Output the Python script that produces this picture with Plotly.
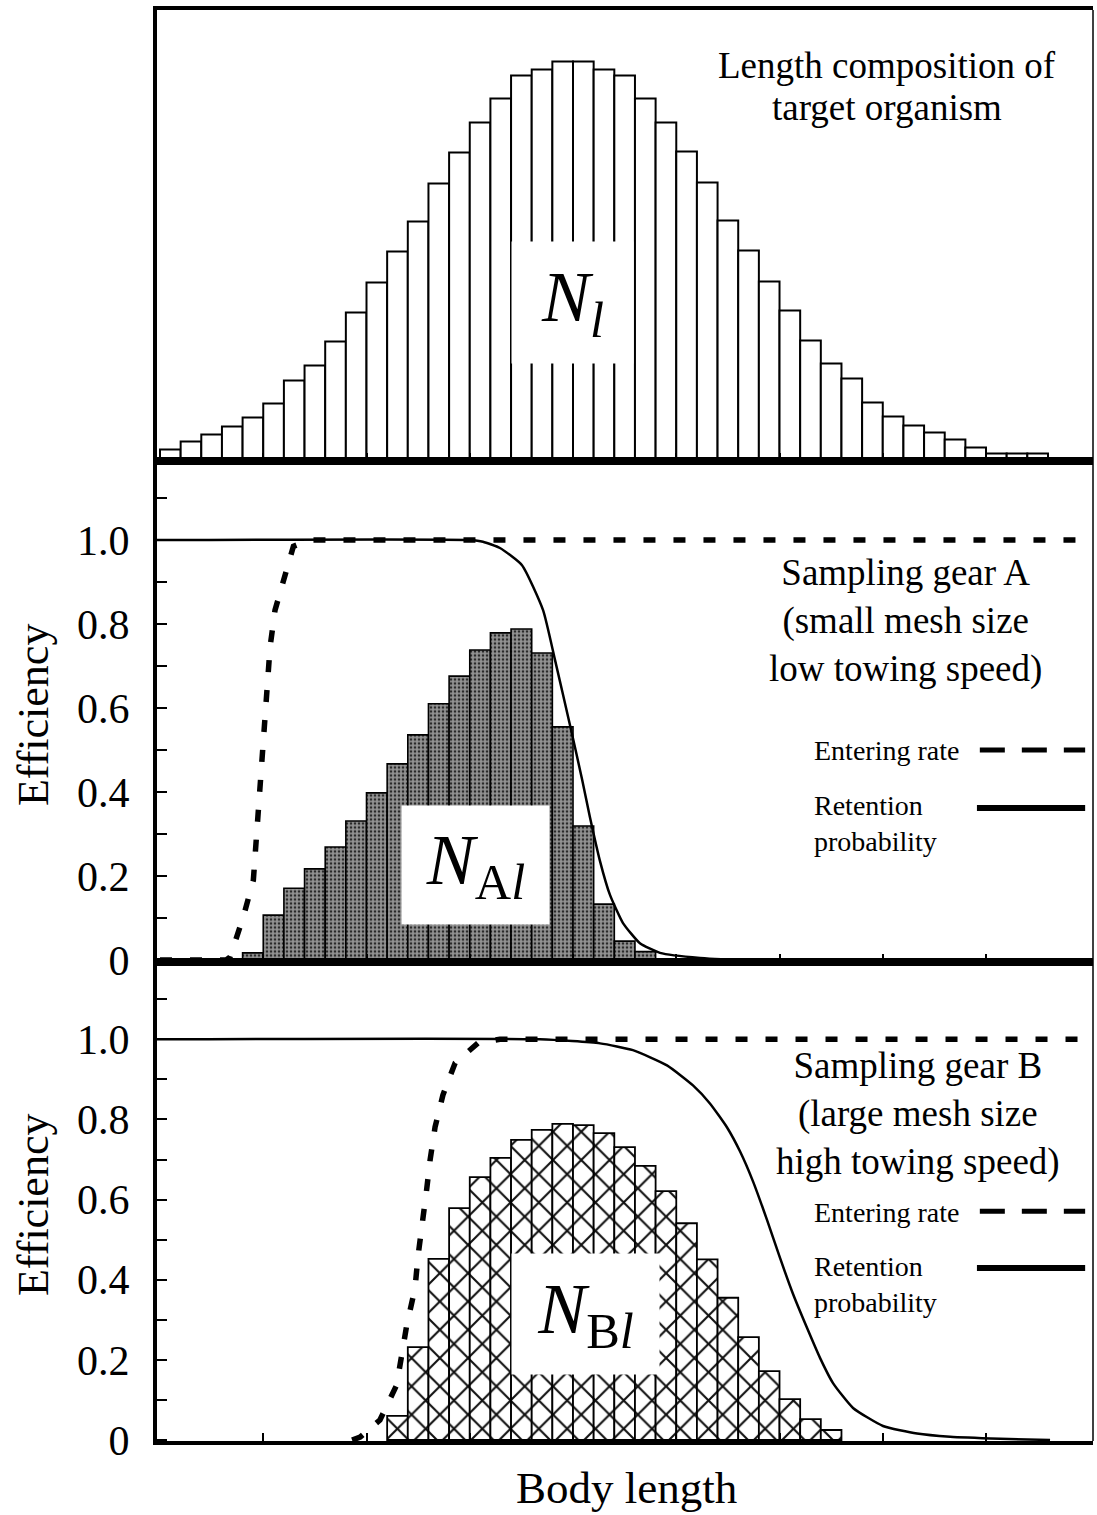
import plotly.graph_objects as go

# ---------------- data ----------------
# length classes (bin index) and counts for the population length composition
length_classes = list(range(43))
N_l = [12, 20, 27, 35, 44, 58, 81, 96, 120, 149, 179, 210, 240, 278, 309, 339, 363,
       386, 392, 400, 400, 392, 386, 363, 339, 310, 279, 241, 211, 180, 151, 121, 98,
       83, 59, 45, 36, 29, 22, 14, 8, 8, 8]

# gear A catch composition
classes_A = list(range(4, 24))
N_Al = [0.017, 0.107, 0.171, 0.217, 0.269, 0.331, 0.398, 0.467, 0.536, 0.610, 0.676,
        0.738, 0.779, 0.788, 0.731, 0.555, 0.319, 0.133, 0.045, 0.020]

# gear B catch composition
classes_B = list(range(11, 33))
N_Bl = [0.060, 0.232, 0.452, 0.579, 0.656, 0.704, 0.749, 0.774, 0.789, 0.786, 0.766,
        0.731, 0.684, 0.621, 0.541, 0.451, 0.355, 0.257, 0.172, 0.102, 0.052, 0.025]

enterA_len = [0.0, 3.2, 3.39, 4.03, 4.52, 4.71, 4.89, 5.08, 5.20, 5.33, 5.57, 5.97, 6.46, 7.26, 45.04]
enterA_val = [0.0, 0.0, 0.007, 0.102, 0.19, 0.317, 0.429, 0.555, 0.636, 0.745, 0.833, 0.905, 0.985, 1.0, 1.0]

retainA_len = [-0.15, 15.0, 15.64, 16.46, 17.53, 18.55, 19.13, 19.85, 20.44, 20.82, 21.31, 21.79,
               22.42, 23.24, 24.21, 26.15, 28.57, 45.2]
retainA_val = [1.0, 1.0, 0.996, 0.981, 0.94, 0.833, 0.714, 0.56, 0.43, 0.34, 0.235, 0.155,
               0.088, 0.04, 0.017, 0.005, 0.0, 0.0]

enterB_len = [9.3, 9.69, 10.65, 11.46, 11.95, 12.35, 12.49, 12.72, 12.91, 13.08, 13.32, 13.70,
              14.29, 15.40, 16.46, 45.04]
enterB_val = [0.0, 0.007, 0.05, 0.137, 0.287, 0.379, 0.457, 0.541, 0.624, 0.699, 0.781, 0.861,
              0.941, 0.991, 1.0, 1.0]

retainB_len = [-0.15, 18.4, 21.31, 22.9, 24.55, 25.81, 26.63, 27.46, 28.09, 28.72, 29.39, 30.02,
               30.65, 31.33, 31.96, 32.59, 33.56, 35.01, 36.66, 38.26, 40.68, 43.1]
retainB_val = [1.0, 1.0, 0.99, 0.973, 0.935, 0.885, 0.84, 0.78, 0.72, 0.645, 0.55, 0.455,
               0.365, 0.28, 0.205, 0.142, 0.08, 0.035, 0.016, 0.008, 0.003, 0.0]

eff_major = [0, 0.2, 0.4, 0.6, 0.8, 1.0]
eff_labels = ["0", "0.2", "0.4", "0.6", "0.8", "1.0"]
eff_minor = [0.1, 0.3, 0.5, 0.7, 0.9, 1.1]
x_ticks = [5, 10, 15, 20, 25, 30, 35, 40]

# ---------------- figure ----------------
SERIF = "Liberation Serif, Times New Roman, serif"
fig = go.Figure()

def centers(cls):
    return [c + 0.5 for c in cls]

fig.add_trace(go.Bar(x=centers(length_classes), y=N_l, width=1, xaxis="x", yaxis="y",
                     marker=dict(color="white", line=dict(color="black", width=2))))

fig.add_trace(go.Bar(x=centers(classes_A), y=N_Al, width=1, xaxis="x2", yaxis="y2",
                     marker=dict(color="#8c8c8c",
                                 pattern=dict(shape=".", bgcolor="#939393", fgcolor="#2a2a2a",
                                              size=4, solidity=0.35),
                                 line=dict(color="black", width=1.6))))

fig.add_trace(go.Bar(x=centers(classes_B), y=N_Bl, width=1, xaxis="x3", yaxis="y3",
                     marker=dict(color="white",
                                 pattern=dict(shape="x", bgcolor="white", fgcolor="#111111",
                                              size=20, solidity=0.2),
                                 line=dict(color="black", width=1.8))))

dash_curve = dict(color="black", width=5.5, dash="12px,18px")
solid_curve = dict(color="black", width=2.5)

fig.add_trace(go.Scatter(x=retainA_len, y=retainA_val, mode="lines", xaxis="x2", yaxis="y2",
                         line=dict(solid_curve, shape="spline", smoothing=0.5)))
fig.add_trace(go.Scatter(x=enterA_len, y=enterA_val, mode="lines", xaxis="x2", yaxis="y2",
                         line=dash_curve))
fig.add_trace(go.Scatter(x=retainB_len, y=retainB_val, mode="lines", xaxis="x3", yaxis="y3",
                         line=dict(solid_curve, shape="spline", smoothing=0.5)))
fig.add_trace(go.Scatter(x=enterB_len, y=enterB_val, mode="lines", xaxis="x3", yaxis="y3",
                         line=dash_curve))

XR = [-0.145, 45.18]
xcommon = dict(range=XR, showgrid=False, zeroline=False, showline=True, linecolor="black",
               linewidth=4, mirror=True, ticks="inside", tickvals=x_ticks, ticklen=8,
               tickwidth=1.5, tickcolor="black", showticklabels=False, automargin=False)
ycommon = dict(showgrid=False, zeroline=False, showline=True, linecolor="black", linewidth=4,
               automargin=False)
yeff = dict(ycommon, ticks="inside", tickvals=eff_major, ticktext=eff_labels, ticklen=10,
            tickwidth=1.5, tickcolor="black", ticklabelstandoff=15,
            minor=dict(tickvals=eff_minor, ticks="inside", ticklen=10, tickwidth=1.5,
                       tickcolor="black", showgrid=False),
            tickfont=dict(family=SERIF, size=42, color="black"))

fig.update_layout(
    template="none",
    width=1097, height=1515,
    margin=dict(l=157, r=4, t=10, b=74, autoexpand=False),
    plot_bgcolor="white", paper_bgcolor="white",
    showlegend=False,
    xaxis=dict(xcommon, domain=[0, 1], anchor="y"),
    yaxis=dict(ycommon, domain=[0.6845, 1], range=[0, 451.5], showticklabels=False, ticks=""),
    xaxis2=dict(xcommon, domain=[0, 1], anchor="y2"),
    yaxis2=dict(yeff, domain=[0.3347, 0.6845], range=[-0.0048, 1.187]),
    xaxis3=dict(xcommon, domain=[0, 1], anchor="y3"),
    yaxis3=dict(yeff, domain=[0, 0.3347], range=[-0.0025, 1.193]),
)

fig.add_shape(type="line", xref="paper", yref="paper", x0=1, x1=1, y0=0, y1=1,
              line=dict(color="black", width=1.5))

# legend samples
for xr, yr, yd, ys in (("x2", "y2", 0.5, 0.362), ("x3", "y3", 0.571, 0.429)):
    fig.add_shape(type="line", xref=xr, yref=yr, x0=39.7, x1=44.8, y0=yd, y1=yd,
                  line=dict(color="black", width=5, dash="25px,17px"))
    fig.add_shape(type="line", xref=xr, yref=yr, x0=39.56, x1=44.8, y0=ys, y1=ys,
                  line=dict(color="black", width=6))

def txt(text, x, y, xref, yref, size, xanchor="center", align="center", **kw):
    fig.add_annotation(text=text, x=x, y=y, xref=xref, yref=yref, showarrow=False,
                       xanchor=xanchor, yanchor="middle", align=align,
                       font=dict(family=SERIF, size=size, color="black"), **kw)

txt("Length composition of", 35.2, 396.5, "x", "y", 37)
txt("target organism", 35.2, 354.5, "x", "y", 37)
txt("<i>N</i><sub><i>l</i></sub>", 19.98, 159, "x", "y", 72, bgcolor="white", width=119, height=119)
txt("<i>N</i><sub>A<i>l</i></sub>", 15.28, 0.226, "x2", "y2", 72, bgcolor="white", width=145, height=116)
txt("<i>N</i><sub>B<i>l</i></sub>", 20.6, 0.314, "x3", "y3", 72, bgcolor="white", width=145, height=118)

txt("Sampling gear A<br>(small mesh size<br>low towing speed)", 36.1, 0.807, "x2", "y2", 37)
txt("Entering rate", 31.57, 0.5, "x2", "y2", 28, xanchor="left", align="left")
txt("Retention<br>probability", 31.57, 0.324, "x2", "y2", 28, xanchor="left", align="left")

txt("Sampling gear B<br>(large mesh size<br>high towing speed)", 36.7, 0.814, "x3", "y3", 37)
txt("Entering rate", 31.57, 0.569, "x3", "y3", 28, xanchor="left", align="left")
txt("Retention<br>probability", 31.57, 0.387, "x3", "y3", 28, xanchor="left", align="left")

txt("Body length", 0.502, -0.0328, "paper", "paper", 45)
txt("Efficiency", -0.1325, 0.5073, "paper", "paper", 44, textangle=-90)
txt("Efficiency", -0.1325, 0.1649, "paper", "paper", 44, textangle=-90)

fig.write_html("out.html", config={"displayModeBar": False},
               post_script="document.body.style.margin='0px';document.body.style.overflow='hidden';")
